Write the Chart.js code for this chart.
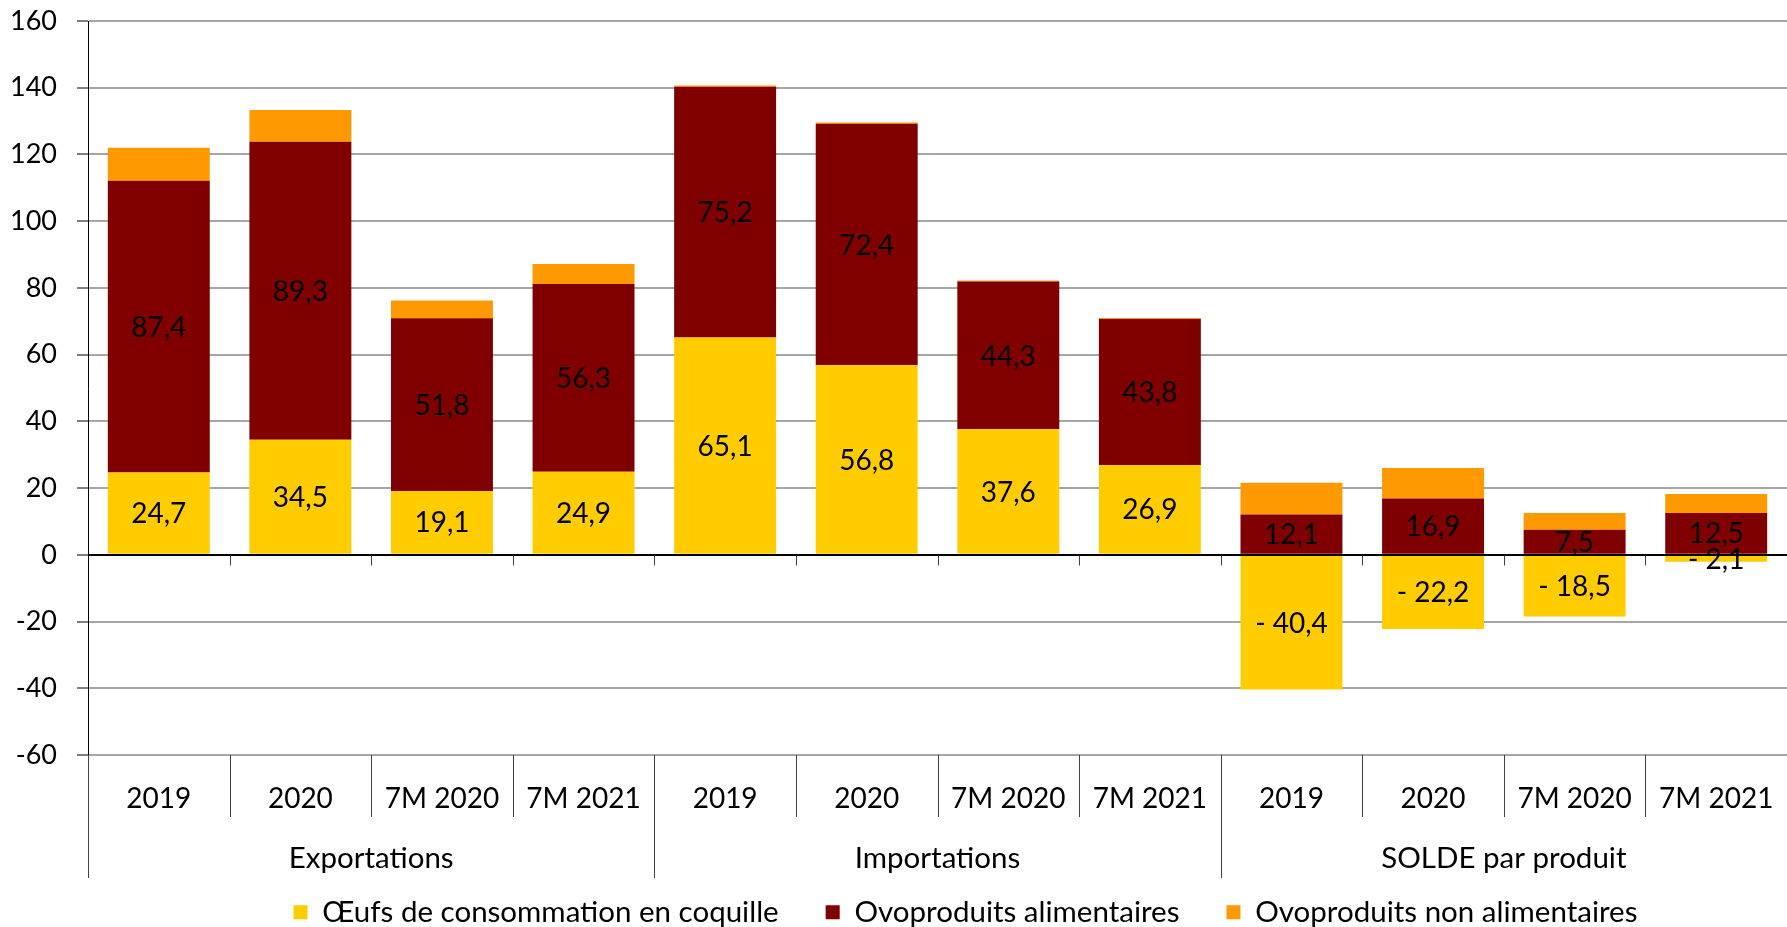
<!DOCTYPE html>
<html lang="fr">
<head>
  <meta charset="UTF-8" />
  <title>Commerce extérieur - œufs et ovoproduits</title>
  <script src="https://cdn.jsdelivr.net/npm/chart.js"></script>
  <style>
    html, body { margin:0; padding:0; background:#fff; }
    #wrap { width:1787px; height:927px; position:relative; }
  </style>
</head>
<body>
<div id="wrap"><canvas id="chart"></canvas></div>

<script>
  // ---- data ----
  const categories = ['2019', '2020', '7M 2020', '7M 2021',
                      '2019', '2020', '7M 2020', '7M 2021',
                      '2019', '2020', '7M 2020', '7M 2021'];
  const groups = ['Exportations', 'Importations', 'SOLDE par produit'];
  const oeufsCoquille = [24.7, 34.5, 19.1, 24.9, 65.1, 56.8, 37.6, 26.9, -40.4, -22.2, -18.5, -2.1];
  const ovoAlimentaires = [87.4, 89.3, 51.8, 56.3, 75.2, 72.4, 44.3, 43.8, 12.1, 16.9, 7.5, 12.5];
  const ovoNonAlimentaires = [9.9, 9.5, 5.3, 6.0, 0.4, 0.4, 0.3, 0.3, 9.5, 9.1, 5.0, 5.7];
  const yTicks = { min: -60, max: 160, step: 20 };

  const FONT = 'Lato';
  const frNum = v => (v < 0 ? '- ' : '') + Math.abs(v).toFixed(1).replace('.', ',');

  // value labels centred in the yellow and dark red segments
  const segmentLabels = {
    id: 'segmentLabels',
    afterDatasetsDraw(chart) {
      const ctx = chart.ctx;
      ctx.save();
      ctx.font = '28px ' + FONT;
      ctx.fillStyle = '#000';
      ctx.textAlign = 'center';
      ctx.textBaseline = 'middle';
      [0, 1].forEach(di => {
        const meta = chart.getDatasetMeta(di);
        meta.data.forEach((bar, i) => {
          const v = chart.data.datasets[di].data[i];
          ctx.fillText(frNum(v), bar.x, (bar.y + bar.base) / 2 + 1);
        });
      });
      ctx.restore();
    }
  };

  // zero line, category dividers and group labels under the axis
  const groupAxis = {
    id: 'groupAxis',
    afterLayout(chart) {
      // legend sits a bit right of the plot centre in the original
      if (chart.legend) {
        chart.legend.left += 28;
        chart.legend.right += 28;
      }
    },
    afterDatasetsDraw(chart) {
      const ctx = chart.ctx;
      const x = chart.scales.x, y = chart.scales.y;
      const area = chart.chartArea;
      const y0 = Math.round(y.getPixelForValue(0)) + 0.5;
      const bottom = area.bottom;
      ctx.save();
      // zero line across the plot
      ctx.strokeStyle = '#000';
      ctx.lineWidth = 1;
      ctx.beginPath();
      ctx.moveTo(area.left, y0);
      ctx.lineTo(area.right, y0);
      ctx.stroke();

      ctx.strokeStyle = '#404040';
      for (let k = 1; k < categories.length; k++) {
        const bx = Math.round((x.getPixelForValue(k - 1) + x.getPixelForValue(k)) / 2) + 0.5;
        // small tick on the zero line
        ctx.beginPath();
        ctx.moveTo(bx, y0);
        ctx.lineTo(bx, y0 + 10);
        ctx.stroke();
        // divider in the label area
        const end = (k % 4 === 0) ? bottom + 123 : bottom + 62;
        ctx.beginPath();
        ctx.moveTo(bx, bottom);
        ctx.lineTo(bx, end);
        ctx.stroke();
      }
      // left edge continues down
      const lx = Math.round(area.left) + 0.5;
      ctx.beginPath();
      ctx.moveTo(lx, bottom);
      ctx.lineTo(lx, bottom + 123);
      ctx.stroke();

      // group labels
      ctx.font = '29.5px ' + FONT;
      ctx.fillStyle = '#000';
      ctx.textAlign = 'center';
      ctx.textBaseline = 'middle';
      groups.forEach((g, gi) => {
        const cx = (x.getPixelForValue(gi * 4) + x.getPixelForValue(gi * 4 + 3)) / 2;
        ctx.fillText(g, cx, bottom + 103);
      });
      ctx.restore();
    }
  };

  new Chart(document.getElementById('chart'), {
    type: 'bar',
    data: {
      labels: categories,
      datasets: [
        { label: 'Œufs de consommation en coquille', data: oeufsCoquille, backgroundColor: '#FFCC00' },
        { label: 'Ovoproduits alimentaires', data: ovoAlimentaires, backgroundColor: '#800000' },
        { label: 'Ovoproduits non alimentaires', data: ovoNonAlimentaires, backgroundColor: '#FF9900' }
      ]
    },
    options: {
      responsive: true,
      maintainAspectRatio: false,
      animation: false,
      categoryPercentage: 0.72,
      barPercentage: 1,
      layout: { padding: { top: 21, right: 0, left: 0, bottom: -10 } },
      plugins: {
        tooltip: { enabled: false },
        legend: {
          position: 'bottom',
          fullSize: false,
          labels: {
            font: { family: FONT, size: 29.5 },
            color: '#000',
            boxWidth: 14,
            boxHeight: 14,
            padding: 47
          }
        }
      },
      scales: {
        x: {
          stacked: true,
          grid: { display: false },
          border: { display: false },
          ticks: {
            color: '#000',
            font: { family: FONT, size: 28 },
            padding: 19,
            autoSkip: false,
            maxRotation: 0
          },
          afterFit: s => {
            s.height = 95.5;
            s.paddingLeft = 0;
            s.paddingRight = 0;
          }
        },
        y: {
          stacked: true,
          min: yTicks.min,
          max: yTicks.max,
          ticks: {
            stepSize: yTicks.step,
            color: '#000',
            font: { family: FONT, size: 27 },
            padding: 20
          },
          grid: {
            color: c => c.tick && c.tick.value === 0 ? '#000' : '#a6a6a6',
            lineWidth: 2,
            tickLength: 11,
            tickColor: '#000',
            tickWidth: 1
          },
          border: { color: '#000', width: 1 },
          afterFit: s => {
            s.width = 88;
            s.paddingTop = 0;
            s.paddingBottom = 0;
          }
        }
      }
    },
    plugins: [segmentLabels, groupAxis]
  });
</script>
</body>
</html>
